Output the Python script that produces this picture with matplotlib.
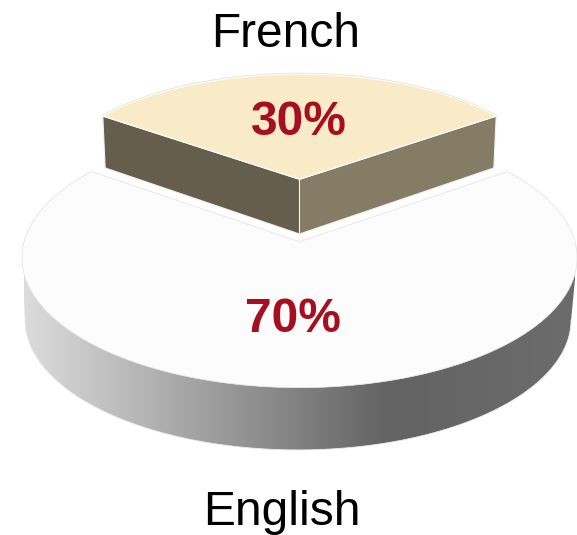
import numpy as np
import matplotlib
matplotlib.use("Agg")
import matplotlib.pyplot as plt
from matplotlib.patches import Polygon
from matplotlib.colors import LinearSegmentedColormap

labels = ["English", "French"]
shares = [70, 30]
value_labels = ["70%", "30%"]

plt.rcParams["font.family"] = ["Liberation Sans", "DejaVu Sans"]
FS = 34.5
RED = "#A50F1F"

fig = plt.figure(figsize=(5.77, 5.35), dpi=100)
ax = fig.add_axes([0, 0, 1, 1])
ax.set_xlim(0, 577)
ax.set_ylim(535, 0)
ax.axis("off")


def proj(theta, cx, y0, R, B, k):
    """theta: clockwise from the far side of the disc, in radians."""
    u, v = np.sin(theta), -np.cos(theta)
    d = 1 - k * v
    return np.column_stack([cx + R * u / d, y0 + B * v / d])


half_french = np.radians(shares[1] / sum(shares) * 360 / 2)

# English slice ----------------------------------------------------------
E_TOP = dict(cx=299.5, y0=241.7, R=275.5, B=128, k=0.123)
E_BOT = dict(cx=298, y0=304.0, R=271, B=128, k=0.123)
t_side = np.arccos(-0.123)  # widest point of the rim
front = np.linspace(t_side, 2 * np.pi - t_side, 300)
wall = np.vstack([proj(front, **E_TOP), proj(front[::-1], **E_BOT)])
cmap = LinearSegmentedColormap.from_list(
    "wall", [(0, "#DCDCDC"), (0.66, "#636363"), (1, "#6C6C6C")]
)
im = ax.imshow(
    np.linspace(0, 1, 512)[None, :], extent=(24, 575, 460, 250), cmap=cmap,
    aspect="auto", zorder=1, vmin=0, vmax=1,
)
wall_patch = Polygon(wall, closed=True, transform=ax.transData, fc="none", ec="none")
ax.add_patch(wall_patch)
im.set_clip_path(wall_patch)
ax.plot(*proj(front, **E_BOT).T, color="#EDEDED", lw=0.6, zorder=1.5)
ax.set_xlim(0, 577)
ax.set_ylim(535, 0)

arc = np.linspace(half_french, 2 * np.pi - half_french, 400)
e_top = proj(arc, **E_TOP)
apex = proj(np.array([0.0]), **{**E_TOP, "B": 0})
ax.add_patch(Polygon(np.vstack([apex, e_top]), closed=True, fc="#FCFCFC",
                     ec="#E0E0E0", lw=0.5, zorder=2))

# French slice -----------------------------------------------------------
F_TOP = dict(cx=299.5, y0=179.3, R=251, B=111, k=0.055)
F_BOT = dict(cx=299.5, y0=234.0, R=248, B=116, k=0.055)
corners_top = proj(np.array([-half_french, half_french]), **F_TOP)
corners_bot = proj(np.array([-half_french, half_french]), **F_BOT)
apex_top = np.array([[F_TOP["cx"], F_TOP["y0"]]])
apex_bot = np.array([[F_BOT["cx"], F_BOT["y0"]]])
ax.add_patch(Polygon(np.vstack([corners_top[0], apex_top, apex_bot, corners_bot[0]]),
                     closed=True, fc="#665E4C", ec="#F2F2F2", lw=0.8, zorder=3))
ax.add_patch(Polygon(np.vstack([corners_top[1], apex_top, apex_bot, corners_bot[1]]),
                     closed=True, fc="#857C66", ec="#F2F2F2", lw=0.8, zorder=3))
f_arc = np.linspace(-half_french, half_french, 200)
ax.add_patch(Polygon(np.vstack([apex_top, proj(f_arc, **F_TOP)]), closed=True,
                     fc="#FAEBC8", ec="#FFFFFF", lw=0.8, zorder=4))
ax.plot(*proj(f_arc, cx=299.5, y0=179.3, R=252, B=112, k=0.055).T,
        color="#DDDDDD", lw=0.5, zorder=4.5)

# Text -------------------------------------------------------------------
ax.text(286, 47, labels[1], fontsize=FS, ha="center", va="baseline", color="black", zorder=6)
ax.text(282, 525, labels[0], fontsize=FS, ha="center", va="baseline", color="black", zorder=6)
ax.text(298.5, 135, value_labels[1], fontsize=FS, fontweight="bold", ha="center",
        va="baseline", color=RED, zorder=6)
ax.text(292.5, 332.5, value_labels[0], fontsize=FS, fontweight="bold", ha="center",
        va="baseline", color=RED, zorder=6)

fig.savefig("out.png", dpi=100)
